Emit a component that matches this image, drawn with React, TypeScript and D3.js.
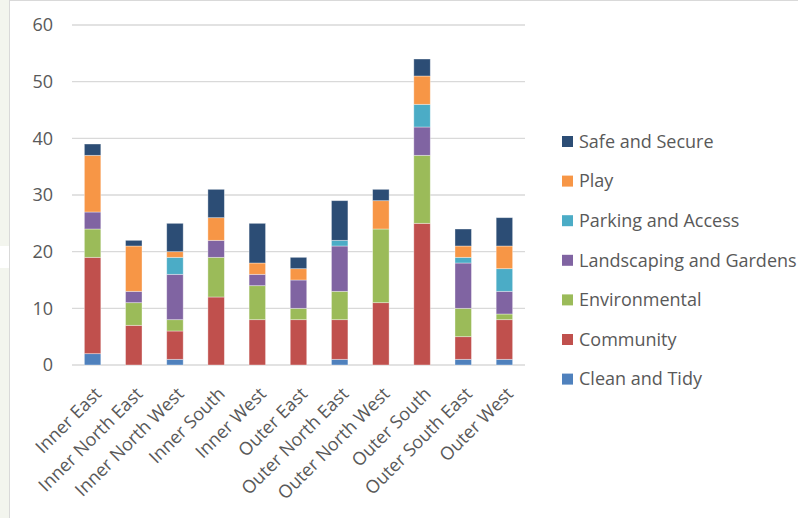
import React from "react";
import * as d3 from "d3";

const categories = [
  "Inner East", "Inner North East", "Inner North West", "Inner South", "Inner West",
  "Outer East", "Outer North East", "Outer North West", "Outer South", "Outer South East", "Outer West",
];
const seriesNames = [
  "Clean and Tidy", "Community", "Environmental", "Landscaping and Gardens",
  "Parking and Access", "Play", "Safe and Secure",
];
const cleanAndTidy = [2, 0, 1, 0, 0, 0, 1, 0, 0, 1, 1];
const community = [17, 7, 5, 12, 8, 8, 7, 11, 25, 4, 7];
const environmental = [5, 4, 2, 7, 6, 2, 5, 13, 12, 5, 1];
const landscaping = [3, 2, 8, 3, 2, 5, 8, 0, 5, 8, 4];
const parking = [0, 0, 3, 0, 0, 0, 1, 0, 4, 1, 4];
const play = [10, 8, 1, 4, 2, 2, 0, 5, 5, 2, 4];
const safeAndSecure = [2, 1, 5, 5, 7, 2, 7, 2, 3, 3, 5];
const yTicks = [0, 10, 20, 30, 40, 50, 60];

const seriesValues = [cleanAndTidy, community, environmental, landscaping, parking, play, safeAndSecure];
const colors = ["#4F81BD", "#C0504D", "#9BBB59", "#8064A2", "#4BACC6", "#F79646", "#2C4D75"];

const W = 798, H = 518;
const FONT = "'Open Sans', sans-serif";

export default function App() {
  const x = d3.scaleBand<string>().domain(categories).range([72, 525]).paddingInner(0.6).paddingOuter(0.3);
  const y = d3.scaleLinear().domain([0, 60]).range([365, 25]);

  const rows = categories.map((c, i) => {
    const r: any = { cat: c };
    seriesNames.forEach((s, j) => (r[s] = seriesValues[j][i]));
    return r;
  });
  const stacked = d3.stack<any>().keys(seriesNames)(rows);

  const legendOrder = [...seriesNames].reverse();

  return (
    <div style={{ position: "absolute", left: 0, top: 0 }}>
      <svg width={W} height={H} style={{ display: "block" }}>
        <rect x={0} y={0} width={W} height={H} fill="#ffffff" />
        <rect x={0} y={0} width={9.5} height={H} fill="#f3f5ee" />
        <rect x={0} y={246} width={9.5} height={22} fill="#ffffff" />
        <line x1={9.5} x2={9.5} y1={0} y2={H} stroke="#d9d9d9" />
        <line x1={9.5} x2={W} y1={0.5} y2={0.5} stroke="#d9d9d9" />
        {yTicks.map((t) => (
          <g key={t}>
            <line x1={72} x2={525} y1={y(t)} y2={y(t)} stroke="#d9d9d9" strokeWidth={1.3} />
            <text x={53} y={y(t)} dy="0.35em" textAnchor="end" fontFamily={FONT} fontSize={18} fill="#595959">
              {t}
            </text>
          </g>
        ))}
        {stacked.map((layer, j) =>
          layer.map((d, i) => {
            const h = y(d[0]) - y(d[1]);
            if (h <= 0) return null;
            return (
              <rect
                key={`${j}-${i}`}
                x={x(categories[i])}
                y={y(d[1])}
                width={x.bandwidth()}
                height={h}
                fill={colors[j]}
                stroke="#ffffff"
                strokeOpacity={0.45}
                strokeWidth={0.8}
              />
            );
          })
        )}
        {categories.map((c) => {
          const cx = (x(c) as number) + x.bandwidth() / 2;
          return (
            <text
              key={c}
              transform={`translate(${cx + 10},${395}) rotate(-45)`}
              textAnchor="end"
              fontFamily={FONT}
              fontSize={18}
              fill="#595959"
            >
              {c}
            </text>
          );
        })}
        {legendOrder.map((s, k) => {
          const j = seriesNames.indexOf(s);
          const cy = 141.5 + k * 39.6;
          return (
            <g key={s}>
              <rect x={562} y={cy - 5.5} width={11} height={11} fill={colors[j]} />
              <text x={579} y={cy} dy="0.35em" fontFamily={FONT} fontSize={18} fill="#595959">
                {s}
              </text>
            </g>
          );
        })}
      </svg>
    </div>
  );
}
